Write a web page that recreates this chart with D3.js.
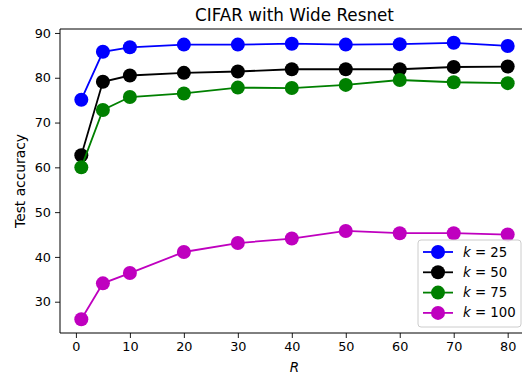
<!DOCTYPE html>
<html>
<head>
<meta charset="utf-8">
<script src="https://cdn.jsdelivr.net/npm/d3@7"></script>
<style>
  body { margin: 0; background: #fff; }
  text { font-family: "DejaVu Sans", sans-serif; }
</style>
</head>
<body>
<script>
var w = 522;
var h = 375;

// Data
var rValues = [1, 5, 10, 20, 30, 40, 50, 60, 70, 80];
var k25 = [75.1, 85.8, 86.8, 87.4, 87.4, 87.6, 87.4, 87.5, 87.8, 87.1];
var k50 = [62.7, 79.1, 80.5, 81.1, 81.4, 81.9, 81.9, 81.9, 82.4, 82.5];
var k75 = [60.0, 72.8, 75.7, 76.5, 77.8, 77.7, 78.4, 79.5, 79.0, 78.8];
var k100 = [26.1, 34.1, 36.4, 41.1, 43.1, 44.1, 45.8, 45.3, 45.3, 45.0];
var kLabels = ["25", "50", "75", "100"];
var xTicks = [0, 10, 20, 30, 40, 50, 60, 70, 80];
var yTicks = [30, 40, 50, 60, 70, 80, 90];

var series = [
    { k: kLabels[0], values: k25, color: "#0000ff" },
    { k: kLabels[1], values: k50, color: "#000000" },
    { k: kLabels[2], values: k75, color: "#008000" },
    { k: kLabels[3], values: k100, color: "#bf00bf" }
];

var pLeft = 60, pTop = 29, pBottom = 333, pRight = 529;

var allY = d3.merge(series.map(function(s) { return s.values; }));
var yMin = d3.min(allY), yMax = d3.max(allY);
var yPad = (yMax - yMin) * 0.05;
var xPad = (d3.max(rValues) - d3.min(rValues)) * 0.05;

var xScale = d3.scaleLinear()
    .domain([d3.min(rValues) - xPad, d3.max(rValues) + xPad])
    .range([pLeft, pRight]);

var yScale = d3.scaleLinear()
    .domain([yMin - yPad, yMax + yPad])
    .range([pBottom, pTop]);

var svg = d3.select("body").append("svg")
    .attr("width", w)
    .attr("height", h);

// Axes
var xAxis = svg.append("g")
    .attr("transform", "translate(0," + pBottom + ")")
    .call(d3.axisBottom(xScale).tickValues(xTicks).tickSize(5).tickPadding(4));

var yAxis = svg.append("g")
    .attr("transform", "translate(" + pLeft + ",0)")
    .call(d3.axisLeft(yScale).tickValues(yTicks).tickSize(5).tickPadding(4));

[xAxis, yAxis].forEach(function(a) {
    a.selectAll("text").style("font-size", "12.8px").attr("fill", "#000");
    a.selectAll("line").attr("stroke", "#000").attr("stroke-width", 0.9);
    a.select(".domain").remove();
});

// Spines: left, bottom, top (right edge is cut off)
svg.append("line").attr("x1", pLeft).attr("x2", pLeft).attr("y1", pTop).attr("y2", pBottom)
    .attr("stroke", "#000").attr("stroke-width", 1);
svg.append("line").attr("x1", pLeft).attr("x2", w).attr("y1", pBottom).attr("y2", pBottom)
    .attr("stroke", "#000").attr("stroke-width", 1);
svg.append("line").attr("x1", pLeft).attr("x2", w).attr("y1", pTop).attr("y2", pTop)
    .attr("stroke", "#000").attr("stroke-width", 1);

// Lines and markers
var line = d3.line()
    .x(function(d, i) { return xScale(rValues[i]); })
    .y(function(d) { return yScale(d); });

series.forEach(function(s) {
    var g = svg.append("g");
    g.append("path")
        .datum(s.values)
        .attr("d", line)
        .attr("fill", "none")
        .attr("stroke", s.color)
        .attr("stroke-width", 1.8);
    g.selectAll("circle")
        .data(s.values)
        .enter()
        .append("circle")
        .attr("cx", function(d, i) { return xScale(rValues[i]); })
        .attr("cy", function(d) { return yScale(d); })
        .attr("r", 7)
        .attr("fill", s.color);
});

// Title and labels
svg.append("text")
    .attr("x", (pLeft + pRight) / 2)
    .attr("y", 21)
    .attr("text-anchor", "middle")
    .style("font-size", "16.8px")
    .text("CIFAR with Wide Resnet");

svg.append("text")
    .attr("x", (pLeft + pRight) / 2)
    .attr("y", 372)
    .attr("text-anchor", "middle")
    .style("font-size", "13.5px")
    .style("font-style", "italic")
    .text("R");

svg.append("text")
    .attr("transform", "translate(25," + ((pTop + pBottom) / 2) + ") rotate(-90)")
    .attr("text-anchor", "middle")
    .style("font-size", "13.8px")
    .text("Test accuracy");

// Legend
var legend = svg.append("g").attr("transform", "translate(418,240)");
legend.append("rect")
    .attr("width", 103)
    .attr("height", 87)
    .attr("rx", 3)
    .attr("fill", "#fff")
    .attr("fill-opacity", 0.8)
    .attr("stroke", "#cccccc");

series.forEach(function(s, i) {
    var y = 12 + i * 20.3;
    legend.append("line")
        .attr("x1", 5).attr("x2", 35).attr("y1", y).attr("y2", y)
        .attr("stroke", s.color).attr("stroke-width", 1.8);
    legend.append("circle")
        .attr("cx", 20).attr("cy", y).attr("r", 7).attr("fill", s.color);
    var t = legend.append("text")
        .attr("x", 45).attr("y", y + 4.5)
        .style("font-size", "13.3px");
    t.append("tspan").style("font-style", "italic").text("k");
    t.append("tspan").text(" = " + s.k);
});
</script>
</body>
</html>
